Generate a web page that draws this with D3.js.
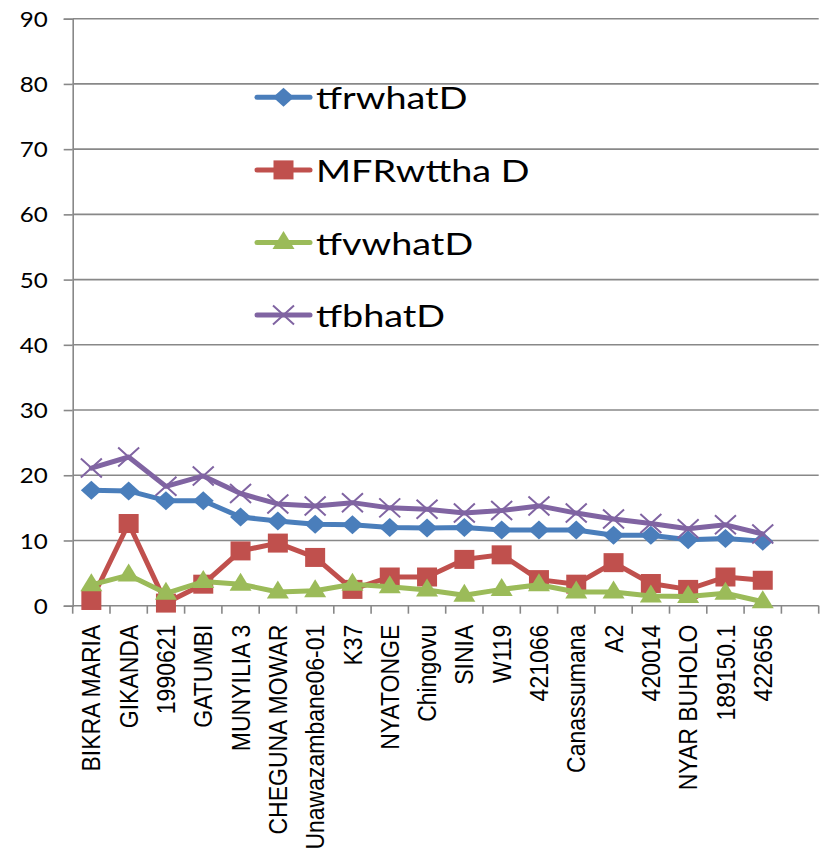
<!DOCTYPE html>
<html>
<head>
<meta charset="utf-8">
<script src="https://cdn.jsdelivr.net/npm/d3@7"></script>
<style>
  html, body { margin: 0; padding: 0; background: #ffffff; }
  svg { display: block; }
</style>
</head>
<body>
<svg id="chart" width="821" height="861"></svg>
<script>
// Site names along the x axis
const categories = ["BIKRA MARIA", "GIKANDA", "1990621", "GATUMBI", "MUNYILIA 3",
  "CHEGUNA MOWAR", "Unawazambane06-01", "K37", "NYATONGE", "Chingovu", "SINIA",
  "W119", "421066", "Canassumana", "A2", "420014", "NYAR BUHOLO", "189150.1", "422656"];

// Series values, one per site
const tfrwhatD = [17.7, 17.6, 16.1, 16.1, 13.6, 13.0, 12.5, 12.4, 12.0, 11.9,
  12.0, 11.6, 11.6, 11.6, 10.8, 10.8, 10.1, 10.3, 9.9];
const MFRwtthaD = [0.8, 12.6, 0.4, 3.3, 8.4, 9.6, 7.4, 2.5, 4.4, 4.4,
  7.1, 7.8, 4.0, 3.3, 6.6, 3.4, 2.5, 4.4, 3.9];
const tfvwhatD = [3.2, 4.7, 1.9, 3.7, 3.3, 2.1, 2.3, 3.3, 2.9, 2.4,
  1.6, 2.5, 3.2, 2.1, 2.1, 1.5, 1.4, 1.9, 0.6];
const tfbhatD = [21.1, 22.8, 18.3, 19.9, 17.2, 15.6, 15.3, 15.8, 15.0, 14.8,
  14.2, 14.6, 15.3, 14.2, 13.3, 12.6, 11.8, 12.4, 11.0];

const seriesNames = ["tfrwhatD", "MFRwttha D", "tfvwhatD", "tfbhatD"];
const seriesColors = ["#4a7ebb", "#c0504d", "#9bbb59", "#8064a2"];
const seriesMarkers = ["diamond", "square", "triangle", "cross"];
const yTicks = [0, 10, 20, 30, 40, 50, 60, 70, 80, 90];

const series = [tfrwhatD, MFRwtthaD, tfvwhatD, tfbhatD].map((values, i) => ({
  name: seriesNames[i], color: seriesColors[i], marker: seriesMarkers[i], values
}));

const svg = d3.select("#chart");
const plot = { left: 72.7, right: 818.7, top: 18.7, bottom: 605.7 };
const gridColor = "#888888";

// One extra empty slot at the right end of the category axis
const slots = d3.range(categories.length + 1);
const x = d3.scaleBand().domain(slots).range([plot.left, plot.right]).padding(0);
const y = d3.scaleLinear().domain([0, 90]).range([plot.bottom, plot.top]);
const cx = i => x(i) + x.bandwidth() / 2;

// Horizontal gridlines
svg.append("g").selectAll("line")
  .data(yTicks.filter(t => t > 0))
  .join("line")
  .attr("x1", plot.left).attr("x2", plot.right)
  .attr("y1", d => y(d)).attr("y2", d => y(d))
  .attr("stroke", gridColor).attr("stroke-width", 1.6);

// Y axis
const yAxis = svg.append("g")
  .attr("transform", `translate(${plot.left},0)`)
  .call(d3.axisLeft(y).tickValues(yTicks).tickSize(9).tickPadding(0));
yAxis.select(".domain").attr("stroke", gridColor).attr("stroke-width", 1.6);
yAxis.selectAll(".tick line").attr("stroke", gridColor).attr("stroke-width", 1.6);
yAxis.selectAll(".tick text").remove();
yAxis.selectAll(".tick").append("text")
  .attr("transform", "translate(-25,0) scale(1.15,1)")
  .attr("text-anchor", "end")
  .attr("dy", "0.36em")
  .attr("fill", "#000")
  .style("font-family", "Lato, 'Liberation Sans', sans-serif")
  .style("font-size", "21px")
  .text(d => d);

// X axis with ticks at band boundaries
const xAxis = svg.append("g").attr("transform", `translate(0,${plot.bottom})`);
xAxis.append("line")
  .attr("x1", plot.left).attr("x2", plot.right)
  .attr("stroke", gridColor).attr("stroke-width", 1.6);
xAxis.selectAll("line.tk")
  .data(d3.range(slots.length + 1))
  .join("line").attr("class", "tk")
  .attr("x1", i => i < slots.length ? x(i) : plot.right)
  .attr("x2", i => i < slots.length ? x(i) : plot.right)
  .attr("y1", 0).attr("y2", 8)
  .attr("stroke", gridColor).attr("stroke-width", 1.6);
xAxis.selectAll("text")
  .data(categories)
  .join("text")
  .attr("transform", (d, i) => `translate(${cx(i)},19) scale(1.1,1) rotate(-90)`)
  .attr("text-anchor", "end")
  .attr("dy", "0.36em")
  .attr("fill", "#000")
  .style("font-family", "'Liberation Sans', Arial, sans-serif")
  .style("font-size", "23px")
  .text(d => d);

// Marker drawing
function drawMarker(sel, type, color) {
  if (type === "diamond") {
    sel.append("path").attr("d", "M0,-9.5 L10.5,0 L0,9.5 L-10.5,0 Z").attr("fill", color);
  } else if (type === "square") {
    sel.append("rect").attr("x", -10).attr("y", -9.5).attr("width", 20).attr("height", 19)
      .attr("fill", color);
  } else if (type === "triangle") {
    sel.append("path").attr("d", "M0,-11.5 L11,6.5 L-11,6.5 Z").attr("fill", color);
  } else {
    sel.append("path").attr("d", "M-10.5,-9.5 L10.5,9.5 M-10.5,9.5 L10.5,-9.5")
      .attr("stroke", color).attr("stroke-width", 2).attr("fill", "none");
  }
}

// Series lines and markers
const line = d3.line().x((d, i) => cx(i)).y(d => y(d));
series.forEach(s => {
  const g = svg.append("g");
  g.append("path")
    .attr("d", line(s.values))
    .attr("fill", "none")
    .attr("stroke", s.color)
    .attr("stroke-width", 5)
    .attr("stroke-linejoin", "round")
    .attr("stroke-linecap", "round");
  s.values.forEach((v, i) => {
    const m = g.append("g").attr("transform", `translate(${cx(i)},${y(v)})`);
    drawMarker(m, s.marker, s.color);
  });
});

// Legend
const legend = svg.append("g");
series.forEach((s, k) => {
  const ly = 97.3 + k * 72.6;
  const item = legend.append("g").attr("transform", `translate(0,${ly})`);
  item.append("line")
    .attr("x1", 257).attr("x2", 310)
    .attr("stroke", s.color).attr("stroke-width", 5)
    .attr("stroke-linecap", "round");
  drawMarker(item.append("g").attr("transform", "translate(283.5,0)"), s.marker, s.color);
  item.append("text")
    .attr("transform", "translate(316,12) scale(1.22,1)")
    .attr("fill", "#000")
    .style("font-family", "Lato, 'Liberation Sans', sans-serif")
    .style("font-size", "31px")
    .text(s.name);
});
</script>
</body>
</html>
